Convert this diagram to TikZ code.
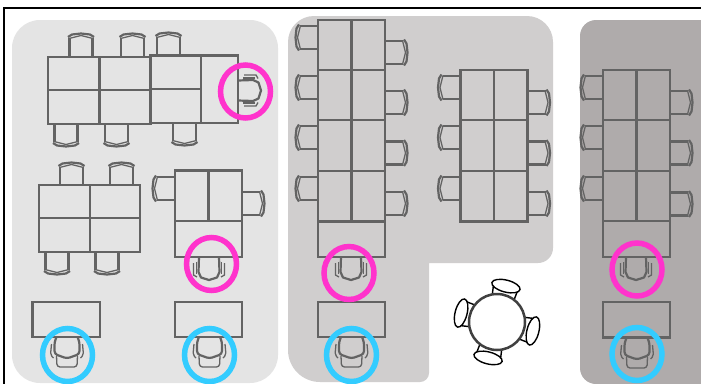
\documentclass[tikz,border=0pt]{standalone}
\definecolor{panelone}{HTML}{E4E4E4}
\definecolor{paneltwo}{HTML}{D0CECE}
\definecolor{panelthree}{HTML}{AFABAB}
\definecolor{furnituregray}{HTML}{636363}
\definecolor{markpink}{HTML}{FF33CC}
\definecolor{markblue}{HTML}{33CCFF}
\tikzset{
    furniture/.style={draw=furnituregray, line width=2.2pt},
    thinpart/.style={draw=furnituregray, line width=1.3pt},
    pinkmark/.style={draw=markpink, line width=5.5pt},
    bluemark/.style={draw=markblue, line width=5.5pt},
    pics/sidechair/.style={code={
        \draw[furniture] (-11.5,0) -- (-11.5,18);
        \draw[furniture] (11.5,0) -- (11.5,18);
        \draw[furniture, line join=round] (-13,19) -- (-9,21.5) -- (0,22.5) -- (9,21.5) -- (13,19);
        \draw[thinpart] (-12,17.5) -- (0,20.5) -- (12,17.5);
    }},
    pics/backchair/.style={code={
        \draw[thinpart] (-15.5,6) -- (-15.5,18) -- (-12,20);
        \draw[thinpart] (15.5,6) -- (15.5,18) -- (12,20);
        \draw[thinpart] (-12.5,5) -- (-12.5,17);
        \draw[thinpart] (12.5,5) -- (12.5,17);
        \draw[furniture, line join=round] (-10,0) -- (-10.5,15) -- (-8,20.5) -- (0,23) -- (8,20.5) -- (10.5,15) -- (10,0);
    }},
    pics/frontchair/.style={code={
        \draw[furniture, rounded corners=3pt] (-10.5,0) -- (-12.5,5) -- (-12.5,17) -- (0,21.5) -- (12.5,17) -- (12.5,5) -- (10.5,0);
        \draw[thinpart, rounded corners=2pt] (-15.5,7) -- (-16.5,18) -- (-13.5,21);
        \draw[thinpart, rounded corners=2pt] (15.5,7) -- (16.5,18) -- (13.5,21);
        \draw[thinpart, rounded corners=3pt] (-10.5,19) -- (-10,30) -- (10,30) -- (10.5,19);
    }},
}
\begin{document}
\begin{tikzpicture}[x=1pt, y=-1pt]
        \clip (0,0) rectangle (701,383);
        \fill[white] (0,0) rectangle (701,383);
        \draw[line width=2pt] (3.5,390) -- (3.5,7.5) -- (710,7.5);

        \fill[panelone, rounded corners=28pt] (12,20) rectangle (278,383);
        \fill[paneltwo] (288,200) [rounded corners=26pt] -- (288,16) -- (553,16) [rounded corners=15pt] -- (553,263) [sharp corners] -- (429,263) [rounded corners=9pt] -- (429,382) [rounded corners=32pt] -- (288,382) -- cycle;
        \fill[panelthree, rounded corners=16pt] (580,20) rectangle (740,384);

        \draw[furniture] (48,57) rectangle (150.5,124);
        \draw[furniture] (48,90) -- (150.5,90);
        \draw[furniture] (99.5,57) -- (99.5,124);
        \draw[furniture] (150.5,55.5) rectangle (238,123);
        \draw[furniture] (150.5,89) -- (201,89);
        \draw[furniture] (201,55.5) -- (201,123);
        \foreach \cx/\cy in {81/56, 132.5/56, 168.5/55, 71.5/185, 121.5/185}
            \pic[rotate=180] at (\cx,\cy) {sidechair};
        \foreach \cx/\cy in {66/124, 116.5/124, 184.5/123, 57/252, 107/252}
            \pic at (\cx,\cy) {sidechair};

        \draw[furniture] (39,185) rectangle (140,252);
        \draw[furniture] (39,218) -- (140,218);
        \draw[furniture] (90,185) -- (90,252);

        \draw[furniture] (175,170.5) rectangle (242,257);
        \draw[furniture] (175,221) -- (242,221);
        \draw[furniture] (208.5,170.5) -- (208.5,221);
        \pic[rotate=-90] at (175,188.5) {sidechair};
        \pic[rotate=90] at (242,203.5) {sidechair};

        \draw[furniture] (32.5,302) rectangle (100,337);
        \draw[furniture] (175,302) rectangle (242,337);

        \draw[furniture] (318,20) rectangle (385,257);
        \draw[furniture] (351.5,20) -- (351.5,221.5);
        \foreach \ty in {70, 120, 171, 221.5}
            \draw[furniture] (318,\ty) -- (385,\ty);
        \foreach \ty in {37.5, 87.5, 137.5, 188.5}
            \pic[rotate=-90] at (318,\ty) {sidechair};
        \foreach \ty in {52.5, 102.5, 153, 203.5}
            \pic[rotate=90] at (385,\ty) {sidechair};
        \draw[furniture] (318,302) rectangle (385,337);

        \draw[furniture] (460.5,70) rectangle (527.5,221.5);
        \draw[furniture] (494,70) -- (494,221.5);
        \foreach \ty in {120, 171}
            \draw[furniture] (460.5,\ty) -- (527.5,\ty);
        \foreach \ty in {87.5, 137.5, 188.5}
            \pic[rotate=-90] at (460.5,\ty) {sidechair};
        \foreach \ty in {102.5, 153, 203.5}
            \pic[rotate=90] at (527.5,\ty) {sidechair};

        \draw[furniture] (603,70) rectangle (670,257);
        \draw[furniture] (636.5,70) -- (636.5,221);
        \foreach \ty in {120, 171, 221}
            \draw[furniture] (603,\ty) -- (670,\ty);
        \foreach \ty in {87.5, 137.5, 188.5}
            \pic[rotate=-90] at (603,\ty) {sidechair};
        \foreach \ty in {102.5, 153, 204}
            \pic[rotate=90] at (670,\ty) {sidechair};
        \draw[furniture] (603,302) rectangle (670,337.5);

        \foreach \ca in {-14, 76, 166, 256} {
            \begin{scope}[shift={(497,322)}, rotate=\ca]
                \draw[line width=1.4pt] (-11,24) -- (-12.5,36) (11,24) -- (12.5,36);
                \draw[line width=1.4pt, fill=white] (0,37) ellipse [x radius=14.5pt, y radius=6pt];
            \end{scope}
        }
        \draw[draw=black!75, line width=2.5pt, fill=white] (497,322) circle [radius=28pt];

        \pic[rotate=90] at (238,90.5) {backchair};
        \foreach \cx/\cy in {209/257, 351/257, 636/257}
            \pic at (\cx,\cy) {backchair};
        \foreach \cx/\cy in {67/337, 209.5/337, 351.5/337, 637/338}
            \pic at (\cx,\cy) {frontchair};

        \foreach \cx/\cy in {245.5/91.5, 211.5/264, 349/273, 637/269.5}
            \draw[pinkmark] (\cx,\cy) ellipse [x radius=25pt, y radius=26.5pt];
        \foreach \cx/\cy in {67.5/355, 209.5/355, 351.5/355, 637/354}
            \draw[bluemark] (\cx,\cy) ellipse [x radius=25pt, y radius=26.5pt];
    \end{tikzpicture}
\end{document}
